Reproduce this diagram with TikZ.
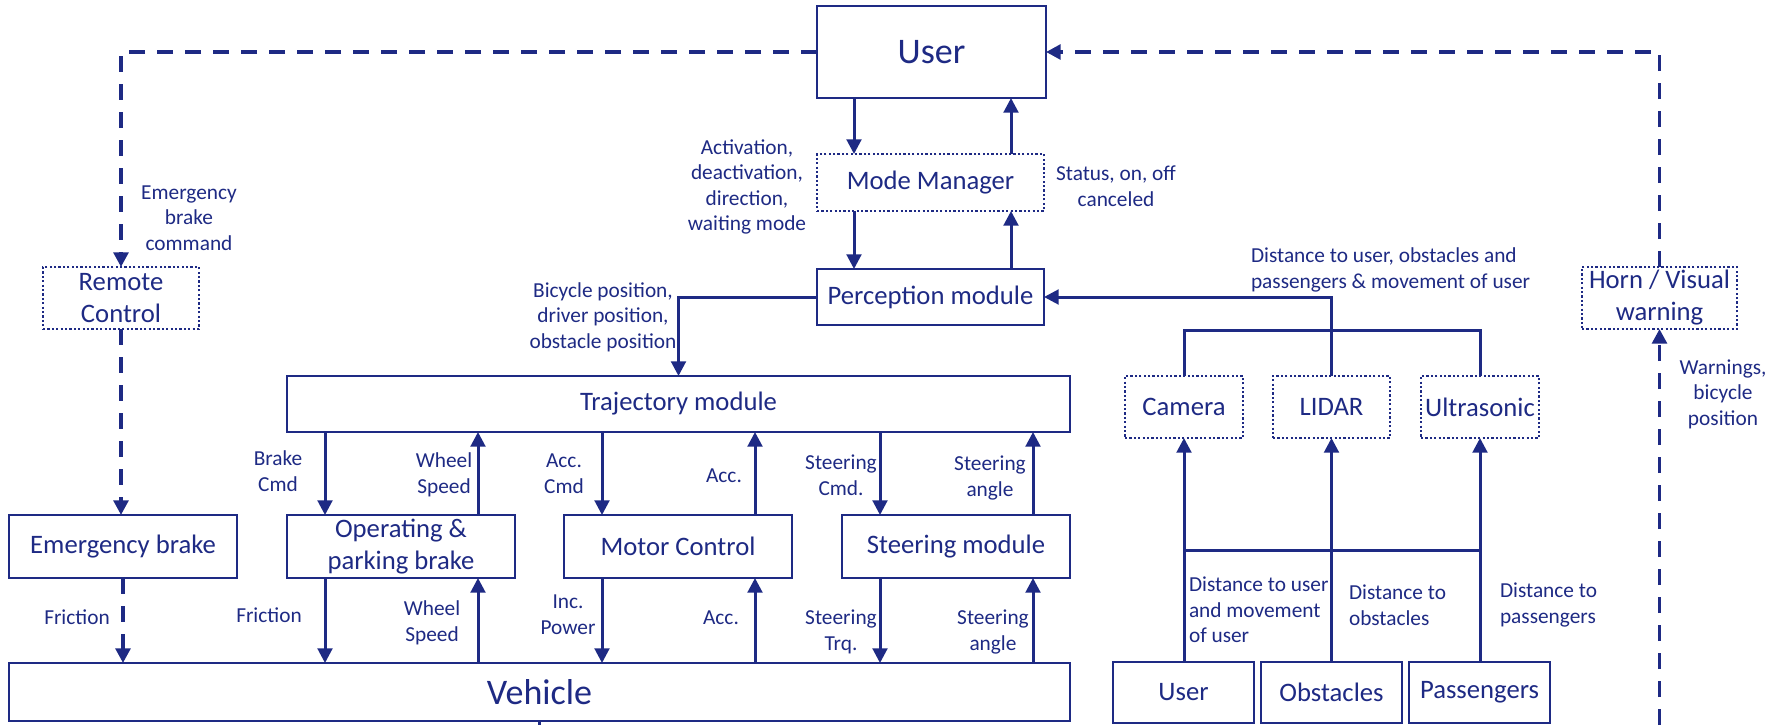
\documentclass[tikz,border=0pt]{standalone}
\usepackage{fontspec}
\setmainfont{Carlito}
\usetikzlibrary{arrows.meta,calc}
\definecolor{navy}{RGB}{30,42,132}

\begin{document}
\begin{tikzpicture}[x=0.75pt,y=-0.75pt,line join=miter,
  every node/.style={text=navy, inner sep=0pt, outer sep=0pt},
  blk/.style={draw=navy, line width=2.1pt, align=center, font=\fontsize{20}{24}\selectfont},
  dotblk/.style={blk, line width=1.8pt, dash pattern=on 1.6pt off 1.7pt},
  sz/.style 2 args={minimum width=#1*0.75pt, minimum height=#2*0.75pt},
  big/.style={font=\fontsize{27}{32}\selectfont},
  lbl/.style={align=center, font=\fontsize{16}{19.2}\selectfont},
  lbll/.style={lbl, align=left, anchor=west},
  wire/.style={draw=navy, line width=2.25pt},
  arr/.style={wire, -{Triangle[length=11pt,width=11pt]}},
  darr/.style={arr, line width=2.9pt, dash pattern=on 12pt off 9pt},
]
\fill[white] (0,0) rectangle (1778,725);
\useasboundingbox (0,0) rectangle (1778,725);

% blocks
\node[blk,big,sz={229}{92}] (user) at (931.5,52) {User};
\node[dotblk,sz={227}{57}] (mode) at (930.5,182.5) {Mode Manager};
\node[blk,sz={227}{56}] (perc) at (930.5,297) {Perception module};
\node[dotblk,sz={156}{62}] (remote) at (121,298) {Remote\\Control};
\node[dotblk,sz={155}{62}] (horn) at (1659.5,298) {Horn / Visual\\warning};
\node[blk,sz={783}{56}] (traj) at (678.5,404) {Trajectory module};
\node[blk,sz={228}{63}] (ebrake) at (123,546.5) {Emergency brake};
\node[blk,sz={228}{63}] (opbrake) at (401,546.5) {Operating \&\\parking brake};
\node[blk,sz={228}{63}] (motor) at (678,546.5) {Motor Control};
\node[blk,sz={228}{63}] (steer) at (956,546.5) {Steering module};
\node[blk,big,sz={1061}{58}] (vehicle) at (539.5,692) {Vehicle};
\node[dotblk,sz={118}{62}] (camera) at (1184,407) {Camera};
\node[dotblk,sz={117}{62}] (lidar) at (1331.5,407) {LIDAR};
\node[dotblk,sz={118}{62}] (ultra) at (1480,407) {Ultrasonic};
\node[blk,sz={141}{61}] (user2) at (1183.5,692.5) {User};
\node[blk,sz={141}{61}] (obst) at (1331.5,692.5) {Obstacles};
\node[blk,sz={141}{61}] (pass) at (1479.5,692.5) {Passengers};

% user <-> mode manager <-> perception
\coordinate (ml) at (854,0);
\coordinate (mr) at (1011,0);
\draw[arr] (user.south -| ml) -- (mode.north -| ml);
\draw[arr] (mode.north -| mr) -- (user.south -| mr);
\draw[arr] (mode.south -| ml) -- (perc.north -| ml);
\draw[arr] (perc.north -| mr) -- (mode.south -| mr);

% dashed remote / warning loop
\draw[darr] (user.west) -| (remote.north);
\draw[darr] (horn.north) |- (user.east);
\coordinate (hornin) at (1659.5,725);
\draw[darr] (hornin) -- (horn.south);
\draw[darr] (remote.south) -- (remote.south |- ebrake.north);
\draw[darr] (ebrake.south) -- (ebrake.south |- vehicle.north);

% perception -> trajectory
\draw[arr] (perc.west) -| (traj.north);

% sensors -> perception
\coordinate (busT) at (0,330);
\coordinate (busB) at (0,550);
\draw[wire] (camera.north) -- (camera.north |- busT) -- (ultra.north |- busT) -- (ultra.north);
\draw[arr] (lidar.north) |- (perc.east);

% sources -> sensors
\draw[arr] (camera.south |- user2.north) -- (camera.south);
\draw[arr] (lidar.south |- obst.north) -- (lidar.south);
\draw[arr] (ultra.south |- pass.north) -- (ultra.south);
\draw[wire] (camera.south |- busB) -- (ultra.south |- busB);

% trajectory <-> actuators <-> vehicle
\foreach \m in {opbrake,motor,steer} {
  \coordinate (\m-l) at ($(\m.north west)+(38,0)$);
  \coordinate (\m-r) at ($(\m.north east)+(-37,0)$);
  \draw[arr] (\m-l |- traj.south) -- (\m-l);
  \draw[arr] (\m-r) -- (\m-r |- traj.south);
  \draw[arr] (\m-l |- \m.south) -- (\m-l |- vehicle.north);
  \draw[arr] (\m-r |- vehicle.north) -- (\m-r |- \m.south);
}
\coordinate (vstub) at (0,725);
\draw[wire] (vehicle.south) -- (vehicle.south |- vstub);

% signal labels
\node[lbl] (l-ebc) at (189,218) {Emergency\\brake\\command};
\node[lbl] (l-act) at (747,187) {Activation,\\deactivation,\\direction,\\waiting mode};
\node[lbl] (l-stat) at (1116,186) {Status, on, off\\canceled};
\node[lbl] (l-pos) at (603,317) {Bicycle position,\\driver position,\\obstacle position};
\node[lbll] (l-dist) at (1251,270) {Distance to user, obstacles and\\passengers \& movement of user};
\node[lbl] (l-warn) at (1723,394) {Warnings,\\bicycle\\position};
\node[lbl] (l-bcmd) at (278,471) {Brake\\Cmd};
\node[lbl] (l-ws1) at (444,475) {Wheel\\Speed};
\node[lbl] (l-acmd) at (564,474) {Acc.\\Cmd};
\node[lbl] (l-acc1) at (724,476) {Acc.};
\node[lbl] (l-scmd) at (841,475) {Steering\\Cmd.};
\node[lbl] (l-sa1) at (990,478) {Steering\\angle};
\node[lbl] (l-fr1) at (77,617) {Friction};
\node[lbl] (l-fr2) at (269,615) {Friction};
\node[lbl] (l-ws2) at (432,623) {Wheel\\Speed};
\node[lbl] (l-inc) at (568,615) {Inc.\\Power};
\node[lbl] (l-acc2) at (721,618) {Acc.};
\node[lbl] (l-strq) at (841,632) {Steering\\Trq.};
\node[lbl] (l-sa2) at (993,632) {Steering\\angle};
\node[lbll] (l-du) at (1189,610) {Distance to user\\and movement\\of user};
\node[lbll] (l-do) at (1349,605) {Distance to\\obstacles};
\node[lbll] (l-dp) at (1500,605) {Distance to\\passengers};
\end{tikzpicture}
\end{document}
